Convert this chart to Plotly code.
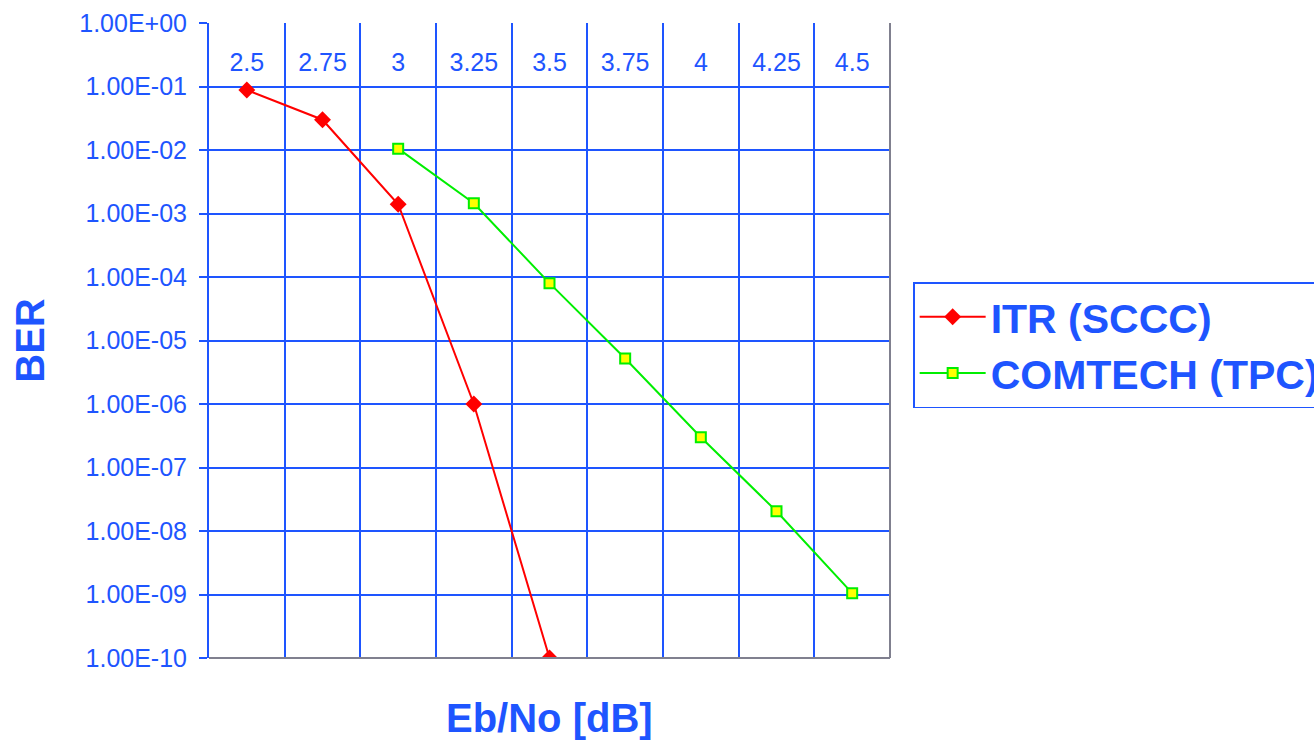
import plotly.graph_objects as go

# Data
ebno_labels = ["2.5", "2.75", "3", "3.25", "3.5", "3.75", "4", "4.25", "4.5"]
itr_x = ["2.5", "2.75", "3", "3.25", "3.5"]
itr_ber = [8.8e-2, 3.0e-2, 1.4e-3, 1.0e-6, 1.0e-10]
comtech_x = ["3", "3.25", "3.5", "3.75", "4", "4.25", "4.5"]
comtech_ber = [1.05e-2, 1.45e-3, 8.0e-5, 5.2e-6, 3.0e-7, 2.05e-8, 1.05e-9]
y_tickvals = [1e0, 1e-1, 1e-2, 1e-3, 1e-4, 1e-5, 1e-6, 1e-7, 1e-8, 1e-9, 1e-10]
y_ticktext = ["1.00E+00", "1.00E-01", "1.00E-02", "1.00E-03", "1.00E-04", "1.00E-05",
              "1.00E-06", "1.00E-07", "1.00E-08", "1.00E-09", "1.00E-10"]

BLUE = "#1e55ff"
GREY = "#80808f"
FONT = "Liberation Sans, Arial, sans-serif"

fig = go.Figure()
fig.add_trace(go.Scatter(
    x=itr_x, y=itr_ber, mode="lines+markers", name="ITR (SCCC)",
    line=dict(color="#ff0000", width=2),
    marker=dict(symbol="diamond", size=13, color="#ff0000",
                line=dict(color="#ff0000", width=0)),
))
fig.add_trace(go.Scatter(
    x=comtech_x, y=comtech_ber, mode="lines+markers", name="COMTECH (TPC)",
    line=dict(color="#00ee00", width=2),
    marker=dict(symbol="square", size=10, color="#ffff00",
                line=dict(color="#00ee00", width=2)),
))

fig.update_layout(
    width=1314, height=741,
    margin=dict(l=209, r=424, t=23, b=83, autoexpand=False),
    paper_bgcolor="white", plot_bgcolor="white",
    font=dict(family=FONT, color=BLUE, size=22),
    showlegend=True,
    legend=dict(
        x=1.034, y=0.592, xanchor="left", yanchor="top",
        bordercolor=BLUE, borderwidth=1.5, bgcolor="white",
        font=dict(family=FONT, size=41, color=BLUE, weight="bold"),
        itemwidth=66, tracegroupgap=0,
    ),
    xaxis=dict(
        type="category", categoryorder="array", categoryarray=ebno_labels,
        range=[-0.5, 8.5], side="top", anchor="free", position=0.9165,
        tickson="boundaries",
        showgrid=True, gridcolor=BLUE, gridwidth=2,
        showline=False,
        ticks="", tickfont=dict(size=25, color=BLUE, family=FONT),
        zeroline=False,
    ),
    yaxis=dict(
        type="log", range=[-10, 0.0001],
        tickvals=y_tickvals, ticktext=y_ticktext,
        showgrid=True, gridcolor=BLUE, gridwidth=2,
        showline=True, linecolor=BLUE, linewidth=2,
        ticks="outside", ticklen=8, tickcolor=BLUE, tickwidth=2,
        ticklabelstandoff=7,
        tickfont=dict(size=25, color=BLUE, family=FONT),
        title=dict(text="BER", font=dict(size=40, color=BLUE, family=FONT, weight="bold"),
                   standoff=22),
        zeroline=False,
    ),
    shapes=[
        dict(type="line", xref="paper", yref="paper", x0=0, x1=1, y0=0, y1=0,
             line=dict(color=GREY, width=2)),
        dict(type="line", xref="paper", yref="paper", x0=1, x1=1, y0=0, y1=1,
             line=dict(color=GREY, width=2)),
    ],
    annotations=[
        dict(text="<b>Eb/No [dB]</b>", xref="paper", yref="paper", x=0.5, y=-0.094,
             xanchor="center", yanchor="middle", showarrow=False,
             font=dict(size=40, color=BLUE, family=FONT)),
    ],
)

fig.write_html("out.html", config={"displayModeBar": False},
               post_script="document.body.style.margin='0';")
